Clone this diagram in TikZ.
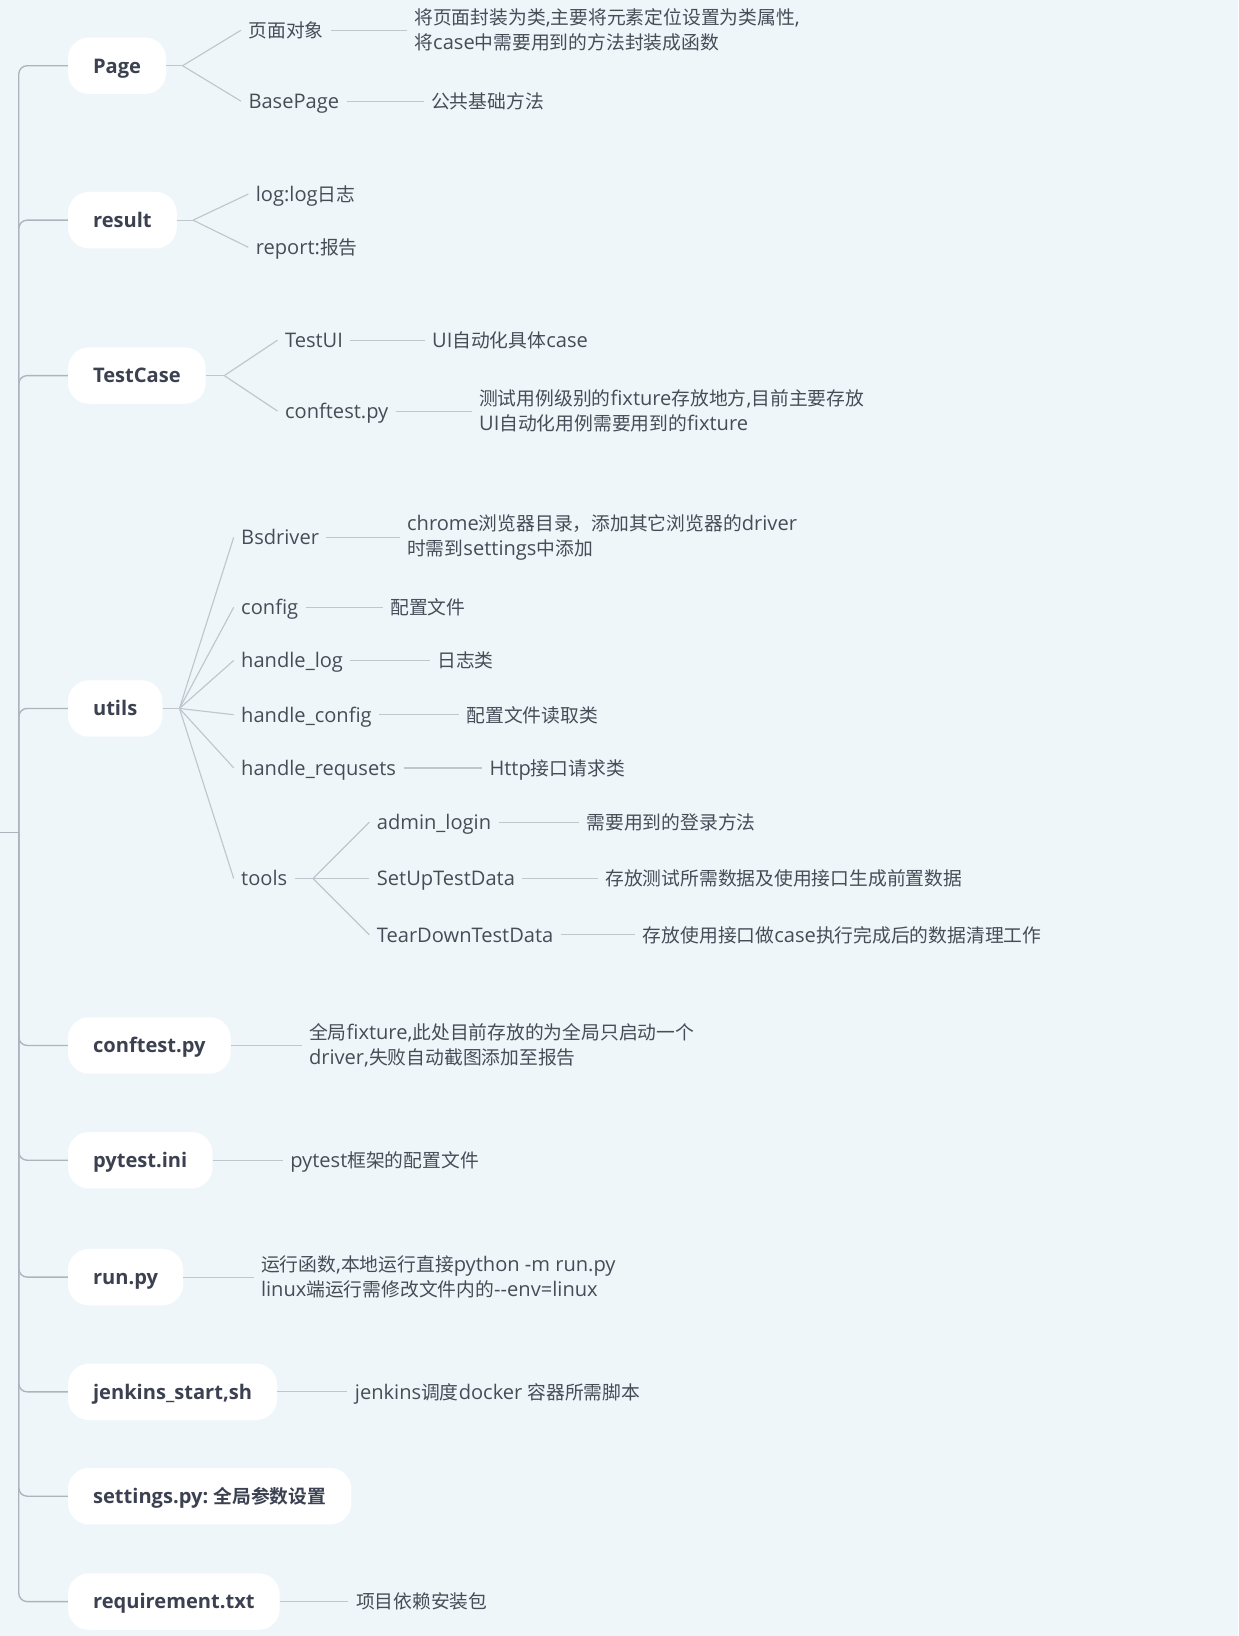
\documentclass[tikz,border=0pt]{standalone}
\usepackage{fontspec}
\setmainfont{Open Sans}[Scale=1.07]
\newfontfamily\cjkfam{Noto Sans CJK SC}[BoldFont={Noto Sans CJK SC Bold}]
% switch to the CJK font for CJK characters
\newXeTeXintercharclass\mycjkcls
\newcount\mycnt
\def\setcjkrange#1#2{\mycnt=#1\relax
  \loop \XeTeXcharclass\mycnt=\mycjkcls \ifnum\mycnt<#2\relax \advance\mycnt by 1 \repeat}
\setcjkrange{"3000}{"303F}
\setcjkrange{"4E00}{"9FFF}
\setcjkrange{"FF00}{"FFEF}
\XeTeXinterchartokenstate=1
\XeTeXinterchartoks 0 \mycjkcls = {\cjkfam}
\XeTeXinterchartoks 4095 \mycjkcls = {\cjkfam}
\XeTeXinterchartoks \mycjkcls 0 = {\rmfamily}
\XeTeXinterchartoks 4095 0 = {\rmfamily}
\definecolor{bg}{HTML}{EFF6FA}
\definecolor{txt}{HTML}{474C57}
\definecolor{btxt}{HTML}{3B4150}
\definecolor{ln}{HTML}{ADB4BD}
\definecolor{lnl}{HTML}{C0C6CD}
\tikzset{
  mainbox/.style={fill=white, rounded corners=20pt, inner xsep=24pt, minimum height=54pt, text height=16pt, text depth=2pt, anchor=west, font=\fontsize{18}{22}\selectfont\bfseries, text=btxt},
  desc/.style={anchor=west, inner xsep=7pt, inner ysep=2pt, align=left, font=\fontsize{18}{24}\selectfont, text=txt},
  leaf/.style={desc, text height=16pt, text depth=2pt},
  trunk/.style={draw=ln, line width=1.3pt, rounded corners=8pt},
  link/.style={draw=lnl, line width=1.1pt},
}
\begin{document}
\begin{tikzpicture}[x=1pt,y=-1pt]
\fill[bg] (0,0) rectangle (1187,1568);
\useasboundingbox (0,0) rectangle (1187,1568);

% root
\coordinate (rootL) at (0,798);
\coordinate (root) at (18,798);

% main nodes
\node[mainbox] (page) at (65,63) {Page};
\node[mainbox] (res) at (65,211) {result};
\node[mainbox] (tc) at (65,360) {TestCase};
\node[mainbox] (ut) at (65,679) {utils};
\node[mainbox] (cf) at (65,1002) {conftest.py};
\node[mainbox] (pi) at (65,1112) {pytest.ini};
\node[mainbox] (rp) at (65,1224) {run.py};
\node[mainbox] (js) at (65,1334) {jenkins\_start,sh};
\node[mainbox] (st) at (65,1434) {settings.py:~全局参数设置};
\node[mainbox] (rq) at (65,1535) {requirement.txt};

\draw[trunk] (rootL) -- (root);
\foreach \n in {page,res,tc,ut,cf,pi,rp,js,st,rq}{
  \draw[trunk] (root) |- (\n.west);
}

% Page
\coordinate (fPage) at (175,63);
\node[leaf] (pg1) at (231,29) {页面对象};
\node[desc] (pg1d) at (390,29) {将页面封装为类,主要将元素定位设置为类属性,\\将case中需要用到的方法封装成函数};
\node[leaf] (pg2) at (231,97) {BasePage};
\node[leaf] (pg2d) at (406,97) {公共基础方法};
\draw[link] (page.east) -- (fPage);
\draw[link] (fPage) -- (pg1.west);
\draw[link] (fPage) -- (pg2.west);
\draw[link] (pg1.east) -- (pg1d.west);
\draw[link] (pg2.east) -- (pg2d.west);

% result
\coordinate (fRes) at (185,211);
\node[leaf] (rs1) at (238,186) {log:log日志};
\node[leaf] (rs2) at (238,237) {report:报告};
\draw[link] (res.east) -- (fRes);
\draw[link] (fRes) -- (rs1.west);
\draw[link] (fRes) -- (rs2.west);

% TestCase
\coordinate (fTC) at (215,360);
\node[leaf] (tc1) at (266,326) {TestUI};
\node[leaf] (tc1d) at (407,326) {UI自动化具体case};
\node[leaf] (tc2) at (266,394) {conftest.py};
\node[desc] (tc2d) at (452,394) {测试用例级别的fixture存放地方,目前主要存放\\UI自动化用例需要用到的fixture};
\draw[link] (tc.east) -- (fTC);
\draw[link] (fTC) -- (tc1.west);
\draw[link] (fTC) -- (tc2.west);
\draw[link] (tc1.east) -- (tc1d.west);
\draw[link] (tc2.east) -- (tc2d.west);

% utils
\coordinate (fUt) at (172,679);
\node[leaf] (u1) at (224,515) {Bsdriver};
\node[desc] (u1d) at (383,515) {chrome浏览器目录，添加其它浏览器的driver\\时需到settings中添加};
\node[leaf] (u2) at (224,582) {config};
\node[leaf] (u2d) at (367,582) {配置文件};
\node[leaf] (u3) at (224,633) {handle\_log};
\node[leaf] (u3d) at (412,633) {日志类};
\node[leaf] (u4) at (224,685) {handle\_config};
\node[leaf] (u4d) at (440,685) {配置文件读取类};
\node[leaf] (u5) at (224,736) {handle\_requsets};
\node[leaf] (u5d) at (462,736) {Http接口请求类};
\node[leaf] (u6) at (224,842) {tools};
\draw[link] (ut.east) -- (fUt);
\foreach \c in {u1,u2,u3,u4,u5,u6}{
  \draw[link] (fUt) -- (\c.west);
}
\draw[link] (u1.east) -- (u1d.west);
\draw[link] (u2.east) -- (u2d.west);
\draw[link] (u3.east) -- (u3d.west);
\draw[link] (u4.east) -- (u4d.west);
\draw[link] (u5.east) -- (u5d.west);

% tools
\coordinate (fTools) at (300,842);
\node[leaf] (t1) at (354,788) {admin\_login};
\node[leaf] (t1d) at (555,788) {需要用到的登录方法};
\node[leaf] (t2) at (354,842) {SetUpTestData};
\node[leaf] (t2d) at (573,842) {存放测试所需数据及使用接口生成前置数据};
\node[leaf] (t3) at (354,896) {TearDownTestData};
\node[leaf] (t3d) at (609,896) {存放使用接口做case执行完成后的数据清理工作};
\draw[link] (u6.east) -- (fTools);
\draw[link] (fTools) -- (t1.west);
\draw[link] (fTools) -- (t2.west);
\draw[link] (fTools) -- (t3.west);
\draw[link] (t1.east) -- (t1d.west);
\draw[link] (t2.east) -- (t2d.west);
\draw[link] (t3.east) -- (t3d.west);

% other main nodes
\node[desc] (cfd) at (289,1002) {全局fixture,此处目前存放的为全局只启动一个\\driver,失败自动截图添加至报告};
\node[leaf] (pid) at (271,1112) {pytest框架的配置文件};
\node[desc] (rpd) at (243,1224) {运行函数,本地运行直接python -m run.py\\linux端运行需修改文件内的-{}-env=linux};
\node[leaf] (jsd) at (333,1334) {jenkins调度docker 容器所需脚本};
\node[leaf] (rqd) at (334,1535) {项目依赖安装包};
\draw[link] (cf.east) -- (cfd.west);
\draw[link] (pi.east) -- (pid.west);
\draw[link] (rp.east) -- (rpd.west);
\draw[link] (js.east) -- (jsd.west);
\draw[link] (rq.east) -- (rqd.west);
\end{tikzpicture}
\end{document}
